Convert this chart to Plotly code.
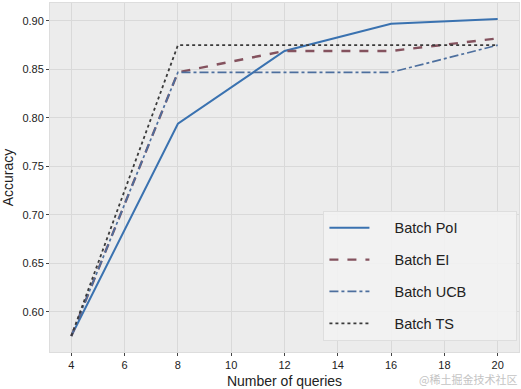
import plotly.graph_objects as go

queries = [4, 8, 12, 16, 20]
batch_poi = [0.575, 0.794, 0.869, 0.897, 0.902]
batch_ei = [0.575, 0.847, 0.869, 0.869, 0.882]
batch_ucb = [0.575, 0.847, 0.847, 0.847, 0.875]
batch_ts = [0.575, 0.875, 0.875, 0.875, 0.875]

NB = "\u00a0"
series = [
    ("Batch PoI", batch_poi, "#3a72b0", "solid", 2),
    ("Batch EI", batch_ei, "#84525e", "dash", 2.4),
    ("Batch UCB", batch_ucb, "#4d6f9e", "dashdot", 1.7),
    ("Batch TS", batch_ts, "#3a3a3a", "dot", 1.8),
]

fig = go.Figure()
for i, (name, vals, color, dash, w) in enumerate(series):
    fig.add_trace(go.Scatter(
        x=queries, y=vals, mode="lines", name=NB * 5 + name + NB * 11,
        line=dict(color=color, dash=dash, width=w),
        legendgroup=f"g{i}",
    ))

font = "Liberation Sans, Arial, sans-serif"
fig.update_layout(
    width=521, height=389,
    margin=dict(l=50, r=2, t=3, b=37),
    paper_bgcolor="white",
    plot_bgcolor="#ececec",
    font=dict(family=font, color="#222222", size=12),
    showlegend=True,
    legend=dict(
        x=0.583, y=0.032, xanchor="left", yanchor="bottom",
        bgcolor="rgba(242,242,242,0.92)", bordercolor="#dedede", borderwidth=1,
        font=dict(size=14.5, family=font, color="#222222"),
        traceorder="grouped", tracegroupgap=10,
        itemwidth=40,
    ),
    xaxis=dict(
        range=[3.2, 20.8], tickmode="array", tickvals=[4, 6, 8, 10, 12, 14, 16, 18, 20],
        showgrid=True, gridcolor="#d9d9d9", gridwidth=1,
        zeroline=False, ticks="outside", ticklen=3, tickcolor="#444444",
        showline=True, linecolor="#dddddd", mirror=True, automargin=False,
        title=dict(text="Number of queries", font=dict(size=14, family=font), standoff=8),
        tickfont=dict(size=11),
    ),
    yaxis=dict(
        range=[0.5585, 0.9185], tickmode="array",
        tickvals=[0.60, 0.65, 0.70, 0.75, 0.80, 0.85, 0.90],
        tickformat=".2f",
        showgrid=True, gridcolor="#d9d9d9", gridwidth=1,
        zeroline=False, ticks="outside", ticklen=3, tickcolor="#444444",
        showline=True, linecolor="#dddddd", mirror=True, automargin=False,
        title=dict(text="Accuracy", font=dict(size=14, family=font), standoff=6),
        tickfont=dict(size=11),
    ),
)

fig.add_annotation(
    text="@稀土掘金技术社区", xref="paper", yref="paper",
    x=1.0, y=-0.078, xanchor="right", yanchor="middle", showarrow=False,
    font=dict(size=11, color="#c4c4c4", family="Noto Sans CJK SC"),
)

fig.write_html(
    "out.html",
    config={"displayModeBar": False},
    post_script="document.body.style.margin='0';document.body.style.padding='0';",
)
